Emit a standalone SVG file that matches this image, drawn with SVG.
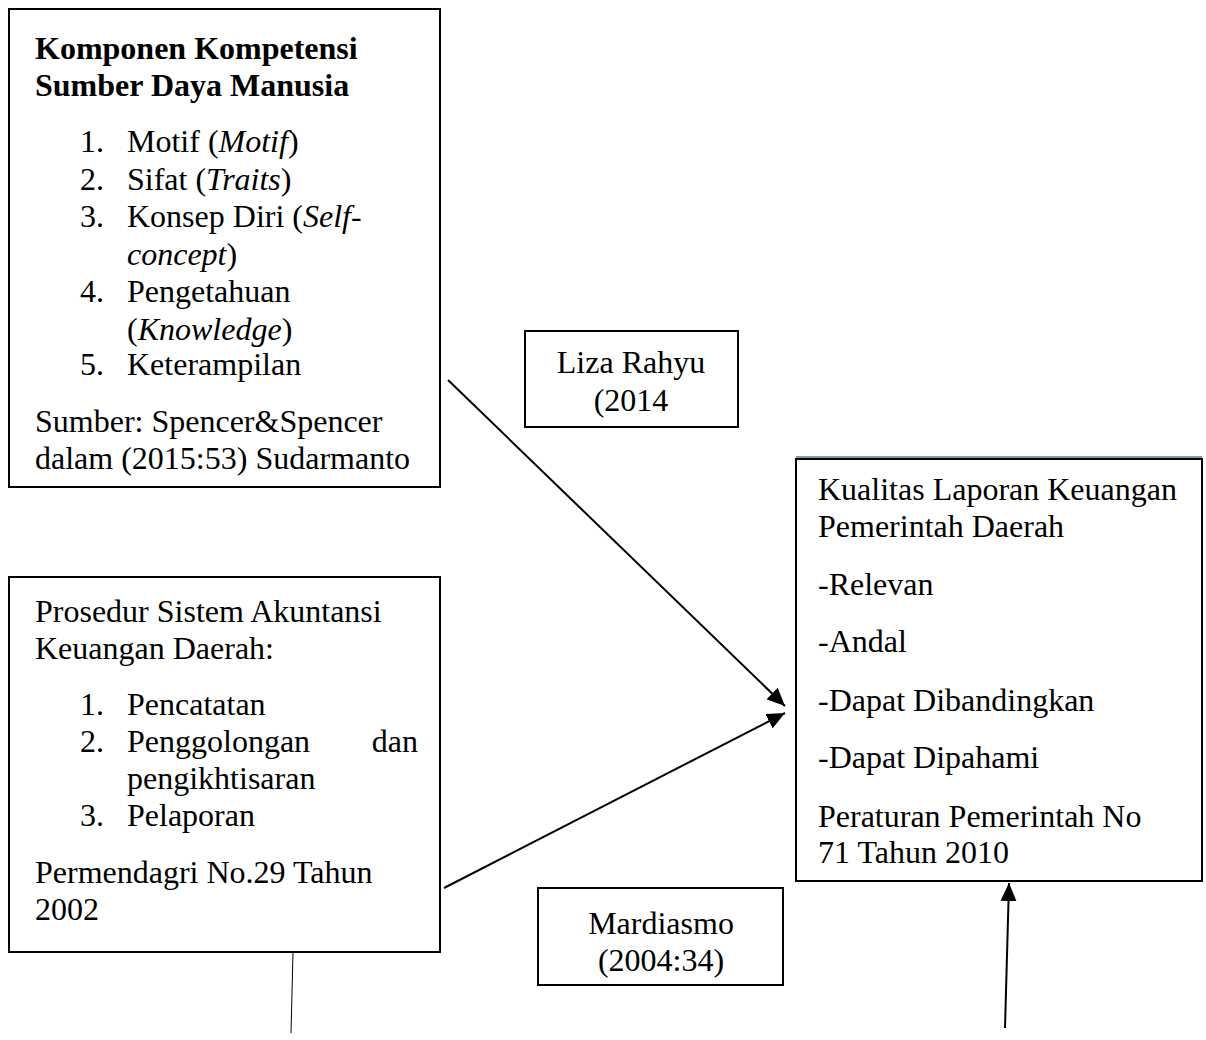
<svg xmlns="http://www.w3.org/2000/svg" width="1206" height="1040" viewBox="0 0 1206 1040">
<style>
.box{fill:#fff;stroke:#000;stroke-width:2}
.t{font-family:"Liberation Serif","Times New Roman",serif;font-size:32px;fill:#000}
.b{font-weight:bold}
.c{text-anchor:middle}
.con{stroke:#000;stroke-width:2;fill:none}
</style>
<defs>
<marker id="ah" markerUnits="userSpaceOnUse" markerWidth="20" markerHeight="16" refX="18" refY="8" orient="auto">
<path d="M0,0 L18,8 L0,16 Z" fill="#000"/>
</marker>
</defs>
<rect width="1206" height="1040" fill="#fff"/>
<g id="connectors">
<line class="con" x1="448" y1="380" x2="785" y2="706" marker-end="url(#ah)"/>
<line class="con" x1="444" y1="888" x2="785" y2="713" marker-end="url(#ah)"/>
<line class="con" x1="1005" y1="1028" x2="1009" y2="883" marker-end="url(#ah)"/>
<line stroke="#000" stroke-width="1" x1="293" y1="952" x2="291" y2="1033"/>
</g>
<g id="komponen">
<rect class="box" x="9" y="9" width="431" height="478"/>
<text class="t b" x="35" y="59">Komponen Kompetensi</text>
<text class="t b" x="35" y="96">Sumber Daya Manusia</text>
<text class="t" x="80" y="152">1.</text><text class="t" x="127" y="152">Motif (<tspan font-style="italic">Motif</tspan>)</text>
<text class="t" x="80" y="190">2.</text><text class="t" x="127" y="190">Sifat (<tspan font-style="italic">Traits</tspan>)</text>
<text class="t" x="80" y="227">3.</text><text class="t" x="127" y="227">Konsep Diri (<tspan font-style="italic">Self-</tspan></text>
<text class="t" x="127" y="265"><tspan font-style="italic">concept</tspan>)</text>
<text class="t" x="80" y="302">4.</text><text class="t" x="127" y="302">Pengetahuan</text>
<text class="t" x="127" y="340">(<tspan font-style="italic">Knowledge</tspan>)</text>
<text class="t" x="80" y="375">5.</text><text class="t" x="127" y="375">Keterampilan</text>
<text class="t" x="35" y="432">Sumber: Spencer&amp;Spencer</text>
<text class="t" x="35" y="469">dalam (2015:53) Sudarmanto</text>
</g>
<g id="prosedur">
<rect class="box" x="9" y="577" width="431" height="375"/>
<text class="t" x="35" y="622">Prosedur Sistem Akuntansi</text>
<text class="t" x="35" y="659">Keuangan Daerah:</text>
<text class="t" x="80" y="715">1.</text><text class="t" x="127" y="715">Pencatatan</text>
<text class="t" x="80" y="752">2.</text><text class="t" x="127" y="752">Penggolongan</text><text class="t" x="418" y="752" text-anchor="end">dan</text>
<text class="t" x="127" y="789">pengikhtisaran</text>
<text class="t" x="80" y="826">3.</text><text class="t" x="127" y="826">Pelaporan</text>
<text class="t" x="35" y="883">Permendagri No.29 Tahun</text>
<text class="t" x="35" y="920">2002</text>
</g>
<g id="liza">
<rect class="box" x="525" y="331" width="213" height="96"/>
<text class="t c" x="631" y="373">Liza Rahyu</text>
<text class="t c" x="631" y="411">(2014</text>
</g>
<g id="mardiasmo">
<rect class="box" x="538" y="888" width="245" height="97"/>
<text class="t c" x="661" y="934">Mardiasmo</text>
<text class="t c" x="661" y="971">(2004:34)</text>
</g>
<g id="kualitas">
<line x1="796" y1="457" x2="1202" y2="457" stroke="#5a7796" stroke-width="1.5"/>
<rect class="box" x="796" y="459" width="406" height="422"/>
<text class="t" x="818" y="500">Kualitas Laporan Keuangan</text>
<text class="t" x="818" y="537">Pemerintah Daerah</text>
<text class="t" x="818" y="595">-Relevan</text>
<text class="t" x="818" y="652">-Andal</text>
<text class="t" x="818" y="711">-Dapat Dibandingkan</text>
<text class="t" x="818" y="768">-Dapat Dipahami</text>
<text class="t" x="818" y="827">Peraturan Pemerintah No</text>
<text class="t" x="818" y="863">71 Tahun 2010</text>
</g>
</svg>
